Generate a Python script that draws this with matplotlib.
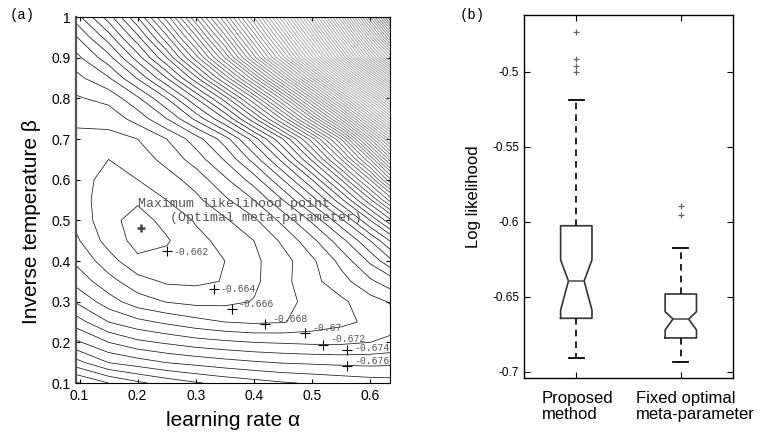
import numpy as np
import matplotlib
matplotlib.use('Agg')
import matplotlib.pyplot as plt
import matplotlib.transforms as mtransforms

plt.rcParams['font.family'] = ['Liberation Sans', 'DejaVu Sans']
MONO = ['Liberation Mono', 'DejaVu Sans Mono']

# (a) log likelihood surface
alpha_grid = [0.09, 0.15, 0.2, 0.25, 0.3, 0.35, 0.4, 0.45, 0.5, 0.55, 0.6, 0.65]
beta_grid = [0.1, 0.15, 0.2, 0.25, 0.3, 0.35, 0.4, 0.45, 0.5, 0.55,
             0.6, 0.65, 0.7, 0.75, 0.8, 0.85, 0.9, 0.95, 1.0]
loglik = [
    [-0.6884, -0.6860, -0.6844, -0.6832, -0.6822, -0.6814, -0.6808, -0.6802, -0.6798, -0.6794, -0.6790, -0.6788],
    [-0.6830, -0.6800, -0.6790, -0.6780, -0.6774, -0.6768, -0.6763, -0.6759, -0.6757, -0.6755, -0.6754, -0.6756],
    [-0.6786, -0.6760, -0.6745, -0.6737, -0.6729, -0.6724, -0.6720, -0.6718, -0.6716, -0.6716, -0.6720, -0.6726],
    [-0.6752, -0.6720, -0.6706, -0.6696, -0.6687, -0.6680, -0.6677, -0.6679, -0.6687, -0.6695, -0.6704, -0.6714],
    [-0.6720, -0.6689, -0.6669, -0.6659, -0.6654, -0.6655, -0.6661, -0.6674, -0.6686, -0.6696, -0.6712, -0.6726],
    [-0.6695, -0.6667, -0.6648, -0.6637, -0.6636, -0.6641, -0.6656, -0.6674, -0.6694, -0.6712, -0.6736, -0.6760],
    [-0.6678, -0.6649, -0.6624, -0.6626, -0.6632, -0.6640, -0.6656, -0.6672, -0.6696, -0.6726, -0.6764, -0.6810],
    [-0.6666, -0.6632, -0.6613, -0.6618, -0.6634, -0.6646, -0.6660, -0.6684, -0.6714, -0.6752, -0.6800, -0.6860],
    [-0.6657, -0.6626, -0.6612, -0.6626, -0.6642, -0.6657, -0.6676, -0.6706, -0.6744, -0.6794, -0.6860, -0.6940],
    [-0.6650, -0.6630, -0.6623, -0.6640, -0.6655, -0.6676, -0.6700, -0.6740, -0.6790, -0.6854, -0.6936, -0.7040],
    [-0.6647, -0.6635, -0.6640, -0.6652, -0.6668, -0.6696, -0.6730, -0.6780, -0.6840, -0.6920, -0.7020, -0.7160],
    [-0.6649, -0.6640, -0.6650, -0.6666, -0.6689, -0.6722, -0.6768, -0.6828, -0.6904, -0.7000, -0.7120, -0.7280],
    [-0.6655, -0.6653, -0.6660, -0.6680, -0.6710, -0.6750, -0.6810, -0.6880, -0.6970, -0.7080, -0.7240, -0.7400],
    [-0.6664, -0.6668, -0.6688, -0.6720, -0.6765, -0.6820, -0.6895, -0.6985, -0.7095, -0.7225, -0.7385, -0.7550],
    [-0.6677, -0.6686, -0.6716, -0.6760, -0.6820, -0.6890, -0.6980, -0.7090, -0.7220, -0.7370, -0.7530, -0.7700],
    [-0.6692, -0.6718, -0.6762, -0.6820, -0.6894, -0.6984, -0.7094, -0.7220, -0.7364, -0.7530, -0.7704, -0.7880],
    [-0.6711, -0.6752, -0.6810, -0.6880, -0.6970, -0.7080, -0.7210, -0.7350, -0.7510, -0.7690, -0.7880, -0.8060],
    [-0.6734, -0.6790, -0.6854, -0.6934, -0.7034, -0.7150, -0.7284, -0.7434, -0.7604, -0.7794, -0.8000, -0.8210],
    [-0.6766, -0.6830, -0.6900, -0.6990, -0.7100, -0.7220, -0.7360, -0.7520, -0.7700, -0.7900, -0.8120, -0.8360],
]
best_alpha, best_beta = 0.205, 0.482

label_text = ['-0.662', '-0.664', '-0.666', '-0.668', '-0.67', '-0.672', '-0.674', '-0.676']
label_alpha = [0.25, 0.331, 0.362, 0.419, 0.488, 0.519, 0.560, 0.560]
label_beta = [0.425, 0.331, 0.282, 0.245, 0.223, 0.194, 0.180, 0.141]
label_dy = [-1, 0, 5, 5, 5, 6, 2, 5]

# (b) box plot statistics
box_stats = [
    dict(med=-0.6393, q1=-0.6642, q3=-0.6025, whislo=-0.6909, whishi=-0.5187,
         cilo=-0.6587, cihi=-0.6253, fliers=[-0.4731, -0.4913, -0.4958, -0.5002]),
    dict(med=-0.6647, q1=-0.6773, q3=-0.6480, whislo=-0.6931, whishi=-0.6171,
         cilo=-0.6720, cihi=-0.6598, fliers=[-0.5891, -0.5953]),
]
group_labels = ['Proposed\nmethod', 'Fixed optimal\nmeta-parameter']
group_label_x = [0.667, 1.571]
ll_ticks = [-0.7, -0.65, -0.6, -0.55, -0.5]
ll_ticklabels = ['-0.7', '-0.65', '-0.6', '-0.55', '-0.5']

fig = plt.figure(figsize=(7.64, 4.32), dpi=100)

# ---- panel a
ax1 = fig.add_axes([0.0995, 0.1134, 0.411, 0.847])
levels = np.round(np.arange(-0.836, -0.6615, 0.002), 3)
# dense far-off contours come out lighter in the original print
shade = np.interp(levels, [-0.836, -0.80, -0.75, -0.70, -0.685], [0.3, 0.55, 0.6, 0.3, 0.1])
line_cols = [(g, g, g) for g in shade]
ax1.contour(alpha_grid, beta_grid, np.array(loglik), levels=levels,
            colors=line_cols, linewidths=0.55, linestyles='solid')
ax1.plot(best_alpha, best_beta, marker='+', color='#444444', ms=6, mew=1.8)
ax1.plot(label_alpha, label_beta, ls='none', marker='+', color='k', ms=7, mew=0.8)
for t, a, b, dy in zip(label_text, label_alpha, label_beta, label_dy):
    ax1.annotate(t, (a, b), xytext=(7, dy), textcoords='offset pixels',
                 va='center', ha='left', fontsize=7, color='#555555', family=MONO,
                 annotation_clip=True, clip_on=True)
ax1.text(0.2, 0.555, 'Maximum likelihood point\n    (Optimal meta-parameter)',
         va='top', ha='left', fontsize=9.5, color='#555555', family=MONO,
         linespacing=1.25)

ax1.set_xlim(0.094, 0.634)
ax1.set_ylim(0.1, 1.0)
ax1.set_xticks([0.1, 0.2, 0.3, 0.4, 0.5, 0.6])
ax1.set_xticklabels(['0.1', '0.2', '0.3', '0.4', '0.5', '0.6'])
ax1.set_yticks([0.1, 0.2, 0.3, 0.4, 0.5, 0.6, 0.7, 0.8, 0.9, 1.0])
ax1.set_yticklabels(['0.1', '0.2', '0.3', '0.4', '0.5', '0.6', '0.7', '0.8', '0.9', '1'])
ax1.tick_params(direction='in', length=3, top=True, right=True, labelsize=10, pad=4)
ax1.set_xlabel('learning rate α', fontsize=15, labelpad=6)
ax1.set_ylabel('Inverse temperature β', fontsize=15)
ax1.yaxis.set_label_coords(-0.112, 0.44)
for s in ax1.spines.values():
    s.set_linewidth(0.8)
ax1.spines['left'].set_linewidth(1.6)
ax1.spines['left'].set_color('#555555')
fig.text(0.013, 0.965, '(a)', family=MONO, fontsize=10, va='center')

# ---- panel b
ax2 = fig.add_axes([0.6859, 0.125, 0.2736, 0.8403])
ax2.bxp(box_stats, positions=[1, 2], widths=0.30, capwidths=0.14, shownotches=True,
        boxprops=dict(color='#333333', lw=1.2),
        medianprops=dict(color='#555555', lw=1.2),
        whiskerprops=dict(color='k', lw=1.2, ls=(0, (4, 3))),
        capprops=dict(color='k', lw=1.3),
        flierprops=dict(marker='+', markeredgecolor='#666666', ms=4, mew=0.9))
ax2.set_xlim(0.5, 2.5)
ax2.set_ylim(-0.704, -0.462)
ax2.set_yticks(ll_ticks)
ax2.set_yticklabels(ll_ticklabels)
ax2.set_xticks([1, 2])
ax2.set_xticklabels(['', ''])
ax2.tick_params(direction='in', length=4, top=True, right=True, labelsize=8.5)
ax2.set_ylabel('Log likelihood', fontsize=12, labelpad=8)
trans = mtransforms.blended_transform_factory(ax2.transData, ax2.transAxes)
for x, t in zip(group_label_x, group_labels):
    ax2.text(x, -0.035, t, transform=trans, ha='left', va='top', fontsize=12,
             multialignment='left', linespacing=1.1)
for s in ax2.spines.values():
    s.set_linewidth(1.0)
fig.text(0.602, 0.965, '(b)', family=MONO, fontsize=10, va='center')

fig.savefig('out.png', dpi=100)
